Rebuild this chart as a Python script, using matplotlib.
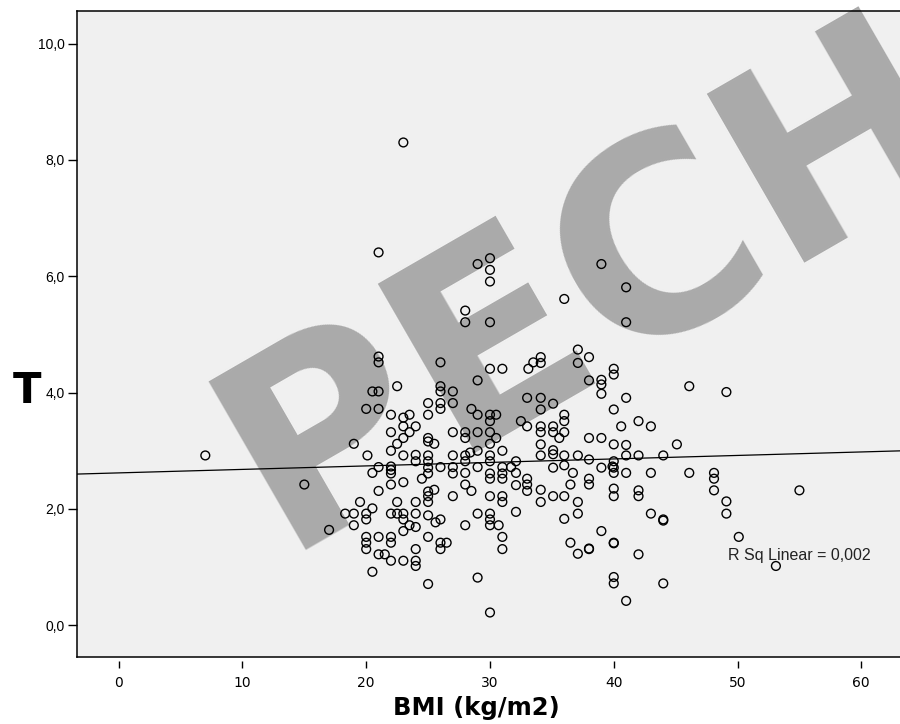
import numpy as np
import matplotlib.pyplot as plt

# BMI (kg/m2) and T values
bmi = [
    # main cloud, lower part
    20.1, 22.0, 23.0, 24.0, 24.0, 25.0, 25.0, 25.0, 25.0, 27.0, 28.0, 28.4, 29.0, 30.0, 31.0,
    21.0, 22.0, 22.0, 22.0, 20.5, 23.0, 22.0, 21.0, 26.0, 27.0, 27.0, 28.0, 28.0, 29.0, 30.0,
    30.0, 30.0, 31.0, 31.0, 31.0, 31.7, 32.1, 32.1, 32.1, 33.0, 33.0, 33.0, 24.5, 25.0, 25.0,
    25.0, 25.5, 27.0, 28.0, 28.5, 30.0, 31.0, 31.0, 32.1, 29.0, 30.0, 30.0, 30.0, 30.7, 28.0,
    31.0, 31.0, 19.5, 20.5, 22.5, 24.0, 18.3, 19.0, 20.0, 20.0, 19.0, 17.0, 22.0, 22.5, 23.0,
    23.0, 24.0, 25.0, 26.0, 25.6, 23.5, 24.0, 23.0, 25.0, 26.0, 26.5, 26.0, 20.0, 20.0, 20.0,
    21.0, 22.0, 22.0, 24.0, 21.0, 21.5, 22.0, 23.0, 24.0, 24.0, 20.5, 25.0, 29.0, 30.0,
    # main cloud, upper part
    28.0, 28.0, 30.0, 21.0, 21.0, 26.0, 30.0, 31.0, 33.1, 33.5, 29.0, 22.5, 20.5, 21.0,
    26.0, 26.0, 27.0, 27.0, 25.0, 26.0, 26.0, 20.0, 21.0, 22.0, 23.0, 23.5, 25.0, 28.5,
    29.0, 30.0, 30.5, 30.0, 33.0, 32.5, 33.0, 23.0, 24.0, 22.0, 23.5, 25.0, 25.0, 25.5,
    23.0, 22.5, 19.0, 27.0, 28.0, 28.0, 29.0, 30.0, 30.0, 30.5,
    # high values
    21.0, 29.0, 30.0, 30.0, 30.0, 36.0, 23.0,
    # right part, upper
    39.0, 41.0, 41.0, 34.1, 34.1, 37.1, 37.1, 38.0, 38.0, 39.0, 39.0, 39.0, 40.0, 40.0,
    41.0, 40.0, 34.1, 34.1, 35.1, 36.0, 36.0, 34.1, 35.1, 34.1, 35.1, 36.0, 35.6, 38.0,
    39.0, 40.6, 42.0, 43.0, 46.1, 49.1,
    # right part, lower
    34.1, 40.0, 41.0, 45.1, 35.1, 35.1, 34.1, 36.0, 37.1, 38.0, 40.0, 41.0, 42.0, 44.0,
    35.1, 36.0, 39.0, 40.0, 39.9, 40.0, 36.7, 41.0, 43.0, 46.1, 48.1, 48.1, 48.1, 34.1,
    34.1, 35.1, 36.0, 36.5, 38.0, 38.0, 37.1, 37.1, 36.0, 40.0, 40.0, 42.0, 42.0, 49.1,
    49.1, 43.0, 44.0, 44.0, 39.0, 50.1, 36.5, 37.1, 38.0, 38.0, 40.0, 40.0, 42.0, 40.0,
    40.0, 44.0, 41.0,
    # isolated
    55.0, 53.1, 7.0, 15.0,
]
t_val = [
    2.92, 3.00, 2.92, 2.93, 2.82, 2.92, 2.82, 2.71, 2.61, 2.92, 2.92, 2.97, 3.00, 2.92, 3.00,
    2.72, 2.73, 2.67, 2.61, 2.62, 2.46, 2.42, 2.31, 2.72, 2.72, 2.61, 2.82, 2.62, 2.72, 2.82,
    2.61, 2.52, 2.72, 2.61, 2.52, 2.72, 2.82, 2.62, 2.41, 2.52, 2.42, 2.31, 2.52, 2.30, 2.22,
    2.12, 2.33, 2.22, 2.42, 2.31, 2.22, 2.22, 2.12, 1.95, 1.92, 1.92, 1.82, 1.72, 1.72, 1.72,
    1.52, 1.31, 2.12, 2.01, 2.12, 2.12, 1.92, 1.92, 1.92, 1.82, 1.72, 1.64, 1.92, 1.92, 1.92,
    1.82, 1.92, 1.89, 1.82, 1.77, 1.72, 1.69, 1.62, 1.52, 1.42, 1.42, 1.31, 1.52, 1.42, 1.31,
    1.52, 1.52, 1.42, 1.31, 1.22, 1.22, 1.11, 1.11, 1.11, 1.02, 0.92, 0.71, 0.82, 0.22,
    5.41, 5.21, 5.21, 4.62, 4.52, 4.52, 4.41, 4.41, 4.41, 4.52, 4.21, 4.11, 4.02, 4.02,
    4.11, 4.02, 4.02, 3.82, 3.82, 3.82, 3.72, 3.72, 3.72, 3.62, 3.57, 3.62, 3.62, 3.72,
    3.62, 3.62, 3.62, 3.51, 3.91, 3.51, 3.42, 3.42, 3.42, 3.32, 3.32, 3.22, 3.16, 3.12,
    3.22, 3.12, 3.12, 3.32, 3.32, 3.22, 3.32, 3.32, 3.12, 3.22,
    6.41, 6.21, 6.31, 6.11, 5.91, 5.61, 8.30,
    6.21, 5.81, 5.21, 4.61, 4.51, 4.74, 4.51, 4.61, 4.21, 4.22, 4.14, 3.98, 4.41, 4.31,
    3.91, 3.71, 3.91, 3.71, 3.81, 3.62, 3.51, 3.42, 3.42, 3.32, 3.32, 3.32, 3.22, 3.22,
    3.22, 3.42, 3.51, 3.42, 4.11, 4.01,
    3.11, 3.11, 3.10, 3.11, 3.01, 2.94, 2.92, 2.92, 2.92, 2.85, 2.82, 2.92, 2.92, 2.92,
    2.71, 2.75, 2.71, 2.71, 2.73, 2.62, 2.62, 2.62, 2.62, 2.62, 2.62, 2.52, 2.32, 2.33,
    2.12, 2.22, 2.22, 2.42, 2.52, 2.42, 2.12, 1.92, 1.83, 2.35, 2.22, 2.32, 2.22, 2.13,
    1.92, 1.92, 1.82, 1.80, 1.62, 1.52, 1.42, 1.23, 1.32, 1.31, 1.42, 1.41, 1.22, 0.83,
    0.72, 0.72, 0.42,
    2.32, 1.02, 2.92, 2.42,
]

# linear fit shown on the chart
fit_intercept = 2.62
fit_slope = 0.006
r_sq = "0,002"

x_ticks = [0, 10, 20, 30, 40, 50, 60]
y_ticks = [0, 2, 4, 6, 8, 10]
watermark = "PECH"


def main():
    fig = plt.figure(figsize=(9, 7.24), dpi=100)
    ax = fig.add_axes([76.7 / 900, 1 - 657.3 / 724, (905 - 76.7) / 900, (657.3 - 11) / 724])
    ax.set_facecolor("#f0f0f0")
    ax.set_xlim(-3.39, 63.53)
    ax.set_ylim(-0.55, 10.56)

    # big grey watermark across the plot
    ax.text(13.11, 1.28, watermark, rotation=30, rotation_mode="anchor",
            ha="left", va="baseline", fontsize=193, fontweight="bold",
            family="DejaVu Sans", color="#aaaaaa", zorder=1, clip_on=False)

    xs = np.array([-3.39, 63.53])
    ax.plot(xs, fit_intercept + fit_slope * xs, color="black", lw=0.9, zorder=2)

    ax.scatter(bmi, t_val, s=40, facecolors="none", edgecolors="black",
               linewidths=1.0, zorder=3)

    ax.text(49.2, 1.125, "R Sq Linear = " + r_sq, fontsize=11.5,
            family="Liberation Sans", color="#222222", zorder=4)

    ax.set_xticks(x_ticks)
    ax.set_xticklabels([str(v) for v in x_ticks], family="Liberation Sans", fontsize=10)
    ax.set_yticks(y_ticks)
    ax.set_yticklabels([f"{v:.1f}".replace(".", ",") for v in y_ticks],
                       family="Liberation Sans", fontsize=10)
    ax.tick_params(axis="x", length=5, width=1.0, pad=6)
    ax.tick_params(axis="y", length=6.5, width=1.0, pad=2)

    for side in ["left", "top", "right"]:
        ax.spines[side].set_linewidth(1.1)
    # x ticks sit a little below the frame
    ax.spines["bottom"].set_position(("outward", 2.5))
    ax.spines["bottom"].set_visible(False)
    ax.plot([0, 1], [0, 0], transform=ax.transAxes, color="black", lw=1.1, clip_on=False)

    fig.text(476.5 / 900, 1 - 708 / 724, "BMI (kg/m2)", ha="center", va="center",
             fontsize=17.5, fontweight="bold", family="DejaVu Sans")
    fig.text(27 / 900, 1 - 391 / 724, "T", ha="center", va="center",
             fontsize=30, fontweight="bold", family="DejaVu Sans")

    fig.savefig("out.png", dpi=100)


if __name__ == "__main__":
    main()
